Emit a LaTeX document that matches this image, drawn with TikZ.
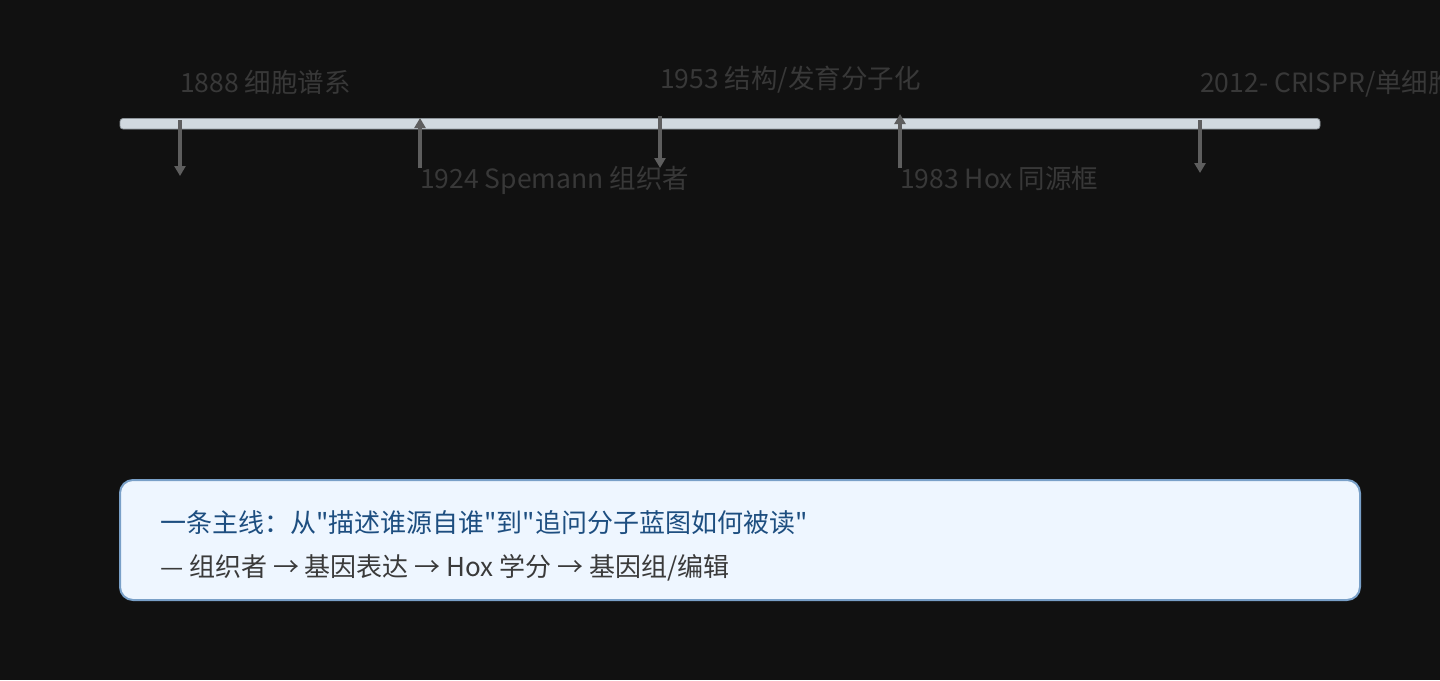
\documentclass[tikz,border=0pt]{standalone}
\usepackage{fontspec}
\setmainfont{Noto Sans CJK SC}[Ligatures=TeXOff]
\usetikzlibrary{arrows.meta}
\definecolor{fundo}{HTML}{111111}
\definecolor{barra}{HTML}{D1D9DF}
\definecolor{barraborda}{HTML}{8E959B}
\definecolor{seta}{HTML}{5E5E5E}
\definecolor{rotulo}{HTML}{383838}
\definecolor{caixafundo}{HTML}{EEF6FF}
\definecolor{caixaborda}{HTML}{79A0C8}
\definecolor{azul}{HTML}{1D4E80}
\definecolor{cinza}{HTML}{3A3A3A}
\begin{document}
\begin{tikzpicture}[x=1pt, y=-1pt,
	marco/.style={-{Triangle[length=10pt,width=11pt]}, seta, line width=3.2pt},
	ano/.style={anchor=base west, inner sep=0pt, text=rotulo, font=\fontsize{26.5}{30}\selectfont},
	linha/.style={anchor=base west, inner sep=0pt, font=\fontsize{26}{30}\selectfont}]
	% o fundo e o recorte
		\fill[fundo] (0,0) rectangle (1440,680);
		\clip (0,0) rectangle (1440,680);

	% a linha do tempo
		\filldraw[fill=barra, draw=barraborda, line width=0.8pt, rounded corners=3pt] (120,118.5) rectangle (1320,129);
		\coordinate (b1) at (180,120); \coordinate (e1) at (180,176);
		\coordinate (b2) at (420,168); \coordinate (e2) at (420,118);
		\coordinate (b3) at (660,116); \coordinate (e3) at (660,168);
		\coordinate (b4) at (900,168); \coordinate (e4) at (900,114);
		\coordinate (b5) at (1200,120); \coordinate (e5) at (1200,173);
		\draw[marco] (b1) -- (e1);
		\draw[marco] (b2) -- (e2);
		\draw[marco] (b3) -- (e3);
		\draw[marco] (b4) -- (e4);
		\draw[marco] (b5) -- (e5);

	% os marcos
		\node[ano] (m1888) at (180,92) {1888 细胞谱系};
		\node[ano] (m1924) at (420,188) {1924 Spemann 组织者};
		\node[ano] (m1953) at (660,88) {1953 结构/发育分子化};
		\node[ano] (m1983) at (900,188) {1983 Hox 同源框};
		\node[ano] (m2012) at (1200,92) {2012- CRISPR/单细胞};

	% a caixa de baixo
		\node[draw=caixaborda, fill=caixafundo, line width=2pt, rounded corners=13pt,
			minimum width=1240pt, minimum height=120pt, inner sep=0pt] (resumo) at (740,540) {};
		\node[linha, text=azul] (tese) at (160,532) {一条主线：从"描述谁源自谁"到"追问分子蓝图如何被读"};
		\node[linha, text=cinza] (trilha) at (160,576) {— 组织者 → 基因表达 → Hox 学分 → 基因组/编辑};
\end{tikzpicture}
\end{document}
